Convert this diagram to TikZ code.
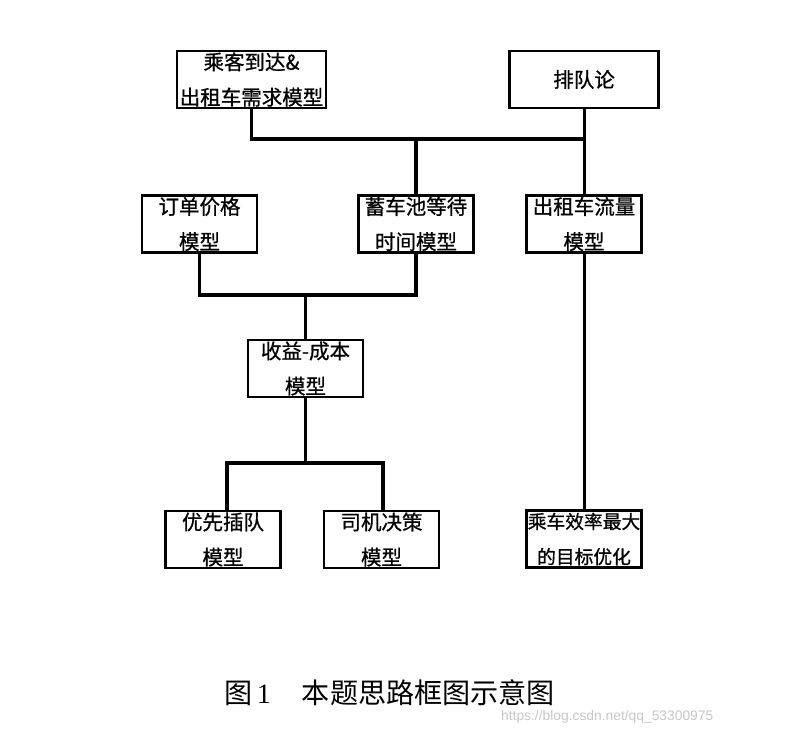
\documentclass[tikz,border=0pt]{standalone}
\usepackage{fontspec}
\setmainfont{Noto Sans CJK SC}
\newfontfamily\boxfont[FakeBold=0.8]{Noto Sans CJK SC}
\newfontfamily\numfont{Liberation Serif}
\newfontfamily\wmfont{Liberation Sans}
\usetikzlibrary{positioning}

\begin{document}
\begin{tikzpicture}[x=0.03cm, y=-0.03cm, on grid,
    box/.style={draw, line width=1.8pt, minimum width=3.45cm, minimum height=1.71cm, inner sep=0pt, align=center, font=\boxfont\fontsize{17.5pt}{30pt}\selectfont},
    widebox/.style={box, minimum width=4.47cm},
    link/.style={line width=2.6pt, line cap=rect}]
    \useasboundingbox (0,0) rectangle (790,735);

    % top row
    \node[widebox] (arrive) at (251.5,79.5) {乘客到达\&\\出租车需求模型};
    \node[widebox, right=9.975cm of arrive] (queue) {排队论};

    % second row
    \node[box, below=4.335cm of queue] (flow) {出租车流量\\模型};
    \node[box, left=5.04cm of flow] (pool) {蓄车池等待\\时间模型};
    \node[box, left=6.495cm of pool] (price) {订单价格\\模型};

    % middle and bottom
    \node[box] (profit) at (305.5,368.5) {收益-成本\\模型};
    \node[box, below left=5.13cm and 2.475cm of profit] (cut) {优先插队\\模型};
    \node[box, right=4.755cm of cut] (driver) {司机决策\\模型};
    \node[box, below=9.45cm of flow, font=\boxfont\fontsize{16pt}{30pt}\selectfont] (goal) {乘车效率最大\\的目标优化};

    \coordinate (top) at (584,139);
    \coordinate (mid) at (305.5,295);
    \coordinate (fork) at (305.5,463);

    \draw[link] (arrive.south) |- (top);
    \draw[link] (queue.south) -- (flow.north);
    \draw[link] (pool.north) -- (pool.north |- top);
    \draw[link] (price.south) |- (mid) -| (pool.south);
    \draw[link] (mid) -- (profit.north);
    \draw[link] (profit.south) -- (fork);
    \draw[link] ([xshift=0.12cm]cut.north) |- (fork) -| ([xshift=0.045cm]driver.north);
    \draw[link] (flow.south) -- (goal.north);

    % caption
    \node[anchor=west, font=\fontsize{24pt}{28pt}\selectfont] (caption) at (220,693)
        {图\,{\numfont 1}\hspace{1.1em}本题思路框图示意图};
    \node[anchor=west, text=black!22, font=\wmfont\fontsize{11.8pt}{13pt}\selectfont] (mark) at (497,717)
        {https://blog.csdn.net/qq\_53300975};
\end{tikzpicture}
\end{document}
